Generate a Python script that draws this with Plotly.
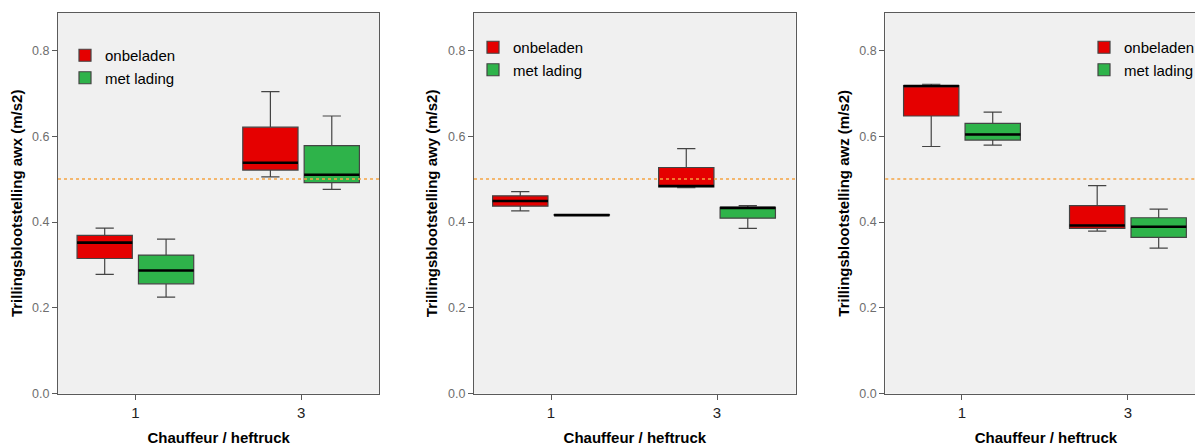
import plotly.graph_objects as go

# ---------------- data ----------------
categories = ["1", "3"]              # Chauffeur / heftruck
group_names = ["onbeladen", "met lading"]
reference_limit = 0.5                # action value (m/s2)

# awx
awx_onbeladen = {"lower": [0.278, 0.505], "q1": [0.315, 0.521], "median": [0.352, 0.538],
                 "q3": [0.369, 0.621], "upper": [0.386, 0.704]}
awx_met_lading = {"lower": [0.225, 0.476], "q1": [0.256, 0.492], "median": [0.287, 0.510],
                  "q3": [0.323, 0.578], "upper": [0.360, 0.647]}
# awy
awy_onbeladen = {"lower": [0.426, 0.480], "q1": [0.437, 0.482], "median": [0.449, 0.484],
                 "q3": [0.461, 0.527], "upper": [0.471, 0.571]}
awy_met_lading = {"lower": [0.416, 0.385], "q1": [0.416, 0.409], "median": [0.416, 0.433],
                  "q3": [0.417, 0.434], "upper": [0.417, 0.438]}
# awz
awz_onbeladen = {"lower": [0.576, 0.379], "q1": [0.647, 0.385], "median": [0.717, 0.392],
                 "q3": [0.718, 0.438], "upper": [0.721, 0.485]}
awz_met_lading = {"lower": [0.579, 0.339], "q1": [0.591, 0.364], "median": [0.604, 0.389],
                  "q3": [0.630, 0.410], "upper": [0.656, 0.430]}

y_titles = ["Trillingsblootstelling awx (m/s2)",
            "Trillingsblootstelling awy (m/s2)",
            "Trillingsblootstelling awz (m/s2)"]
x_title = "Chauffeur / heftruck"
y_ticks = [0.0, 0.2, 0.4, 0.6, 0.8]

# ---------------- styling / layout ----------------
W, H = 1203, 444
OFF = 8          # page body margin of the html page
FONT = "Arial, Liberation Sans, sans-serif"
fill_colors = {"onbeladen": "#e50000", "met lading": "#2eb34a"}
edge = "#444444"
frame = "#5a5a5a"

def fx(p):
    return (p - OFF) / W

def fy(p):
    return 1 - (p - OFF) / H

panels = [
    {"data": [awx_onbeladen, awx_met_lading], "x": (58, 379.3), "xr": [-0.467, 1.472],
     "legend": (65, 39), "mirror_y": True},
    {"data": [awy_onbeladen, awy_met_lading], "x": (474, 795.7), "xr": [-0.464, 1.474],
     "legend": (473, 31), "mirror_y": True},
    {"data": [awz_onbeladen, awz_met_lading], "x": (885.3, 1206.6), "xr": [-0.462, 1.474],
     "legend": (1084, 31), "mirror_y": True},
]
y_top, y_bot = 13, 393.7
y_range = [0, 0.887]

fig = go.Figure()
layout = dict(
    width=W, height=H, template="none",
    margin=dict(l=0, r=0, t=0, b=0, autoexpand=False),
    paper_bgcolor="white", plot_bgcolor="#f0f0f0",
    font=dict(family=FONT, color="black"),
    boxmode="group", boxgap=0.259, boxgroupgap=0.1,
    showlegend=True, shapes=[],
)

for i, p in enumerate(panels):
    n = "" if i == 0 else str(i + 1)
    xa, ya, lg = "x" + n, "y" + n, "legend" + n
    for g, stats in zip(group_names, p["data"]):
        fig.add_trace(go.Box(
            x=categories, q1=stats["q1"], median=stats["median"], q3=stats["q3"],
            lowerfence=stats["lower"], upperfence=stats["upper"],
            name=g, fillcolor=fill_colors[g], line=dict(color=edge, width=1.2),
            whiskerwidth=0.33, boxpoints=False, offsetgroup=g,
            xaxis=xa, yaxis=ya, legend=lg, showlegend=True, hoverinfo="y",
        ))
        # thick black median line
        fig.add_trace(go.Box(
            x=categories, q1=stats["median"], median=stats["median"], q3=stats["median"],
            lowerfence=stats["median"], upperfence=stats["median"],
            name=g, fillcolor="rgba(0,0,0,0)", line=dict(color="black", width=2.6),
            whiskerwidth=0, boxpoints=False, offsetgroup=g,
            xaxis=xa, yaxis=ya, showlegend=False, hoverinfo="skip",
        ))
    layout["xaxis" + n] = dict(
        domain=[fx(p["x"][0]), fx(p["x"][1])], anchor=ya, type="category",
        categoryorder="array", categoryarray=categories, range=p["xr"],
        showline=True, linecolor=frame, linewidth=1.3, mirror=True,
        ticks="outside", ticklen=5, tickcolor=frame, tickwidth=1.2,
        tickfont=dict(size=15, color="#222222", family=FONT),
        showgrid=False, zeroline=False, automargin=False,
        title=dict(text="<b>%s</b>" % x_title, font=dict(size=15, color="black", family=FONT),
                   standoff=12),
    )
    layout["yaxis" + n] = dict(
        domain=[fy(y_bot), fy(y_top)], anchor=xa, range=y_range,
        tickvals=y_ticks, tickformat=".1f",
        showline=True, linecolor=frame, linewidth=1.3, mirror=p["mirror_y"],
        ticks="outside", ticklen=5, tickcolor=frame, tickwidth=1.2,
        tickfont=dict(size=12.5, color="#6e6e6e", family=FONT),
        showgrid=False, zeroline=False, automargin=False,
        title=dict(text="<b>%s</b>" % y_titles[i], font=dict(size=15, color="black", family=FONT),
                   standoff=6),
    )
    layout[lg] = dict(
        x=fx(p["legend"][0]), y=fy(p["legend"][1]), xanchor="left", yanchor="top",
        xref="paper", yref="paper", bgcolor="rgba(0,0,0,0)", borderwidth=0,
        font=dict(size=15, color="black", family=FONT), traceorder="normal",
    )
    layout["shapes"].append(dict(
        type="line", xref=xa + " domain", yref=ya, x0=0, x1=1,
        y0=reference_limit, y1=reference_limit,
        line=dict(color="#f5a443", width=1.5, dash="dot"), layer="above",
    ))

fig.update_layout(**layout)
fig.write_html("out.html")
